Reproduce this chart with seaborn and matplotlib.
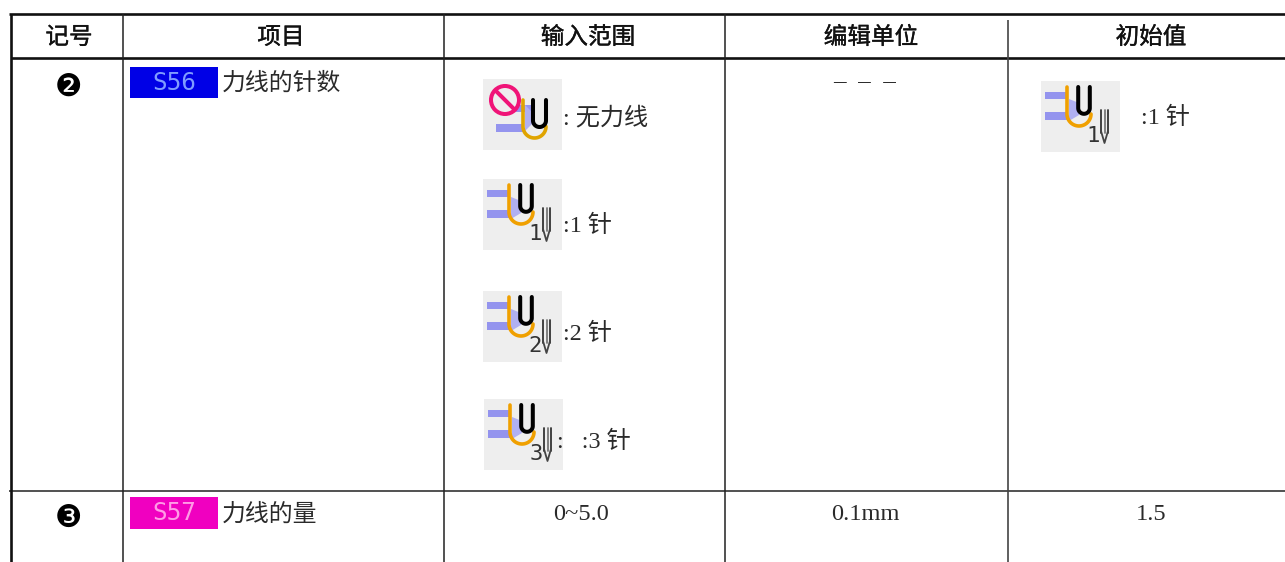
import matplotlib
matplotlib.use("Agg")
import matplotlib.pyplot as plt
import matplotlib.patheffects as pe
from matplotlib.patches import Rectangle, Circle, Polygon
import seaborn as sns
import numpy as np

sns.set_theme(style="white")
plt.rcParams['font.family'] = ['Noto Sans CJK SC', 'DejaVu Sans']

headers = ["记号", "项目", "输入范围", "编辑单位", "初始值"]
header_x = [69, 281, 588, 871, 1151]
row_marks = ["❷", "❸"]
row_items = ["力线的针数", "力线的量"]
badge_labels = ["S56", "S57"]
badge_colors = ["#0000e6", "#f000c0"]
badge_text_colors = ["#7f9cff", "#ff9be6"]
range_labels = [": 无力线", ":1 针", ":2 针", ":   :3 针"]
range_label_x = [563, 563, 563, 557]
range_label_y = [117, 225, 333, 441]
icon_digits = ["", "1", "2", "3"]
icon_left = [483, 483, 483, 484]
icon_top = [79, 179, 291, 399]
row3_values = ["0~5.0", "0.1mm", "1.5"]
row3_x = [581, 865, 1151]

LATIN = ['Liberation Serif', 'Noto Sans CJK SC']
INK = "#2a2a2a"

fig = plt.figure(figsize=(12.85, 5.62), dpi=100)
ax = fig.add_axes([0, 0, 1, 1])
ax.set_xlim(0, 1285)
ax.set_ylim(562, 0)
ax.axis('off')
sns.despine(ax=ax, left=True, bottom=True)


def rule(x0, y0, x1, y1, lw, color="#111111"):
    sns.lineplot(x=[x0, x1], y=[y0, y1], color=color, linewidth=lw, ax=ax,
                 estimator=None, sort=False, legend=False, zorder=3,
                 solid_capstyle='butt')


def u_curve(cx, r, top, arc_y, right_top=None, n=30):
    t = np.linspace(np.pi, 0, n)
    xs = np.r_[cx - r, cx + r * np.cos(t)]
    ys = np.r_[top, arc_y + r * np.sin(t)]
    if right_top is not None:
        xs = np.r_[xs, cx + r]
        ys = np.r_[ys, right_top]
    return xs, ys


def draw_icon(left, top, digit):
    ax.add_patch(Rectangle((left, top), 79, 71, color="#eeeeee", lw=0, zorder=1))
    blue = "#9494ee"
    if digit == "":
        ax.add_patch(Rectangle((left + 13, top + 45), 28, 8, color=blue, lw=0, zorder=2))
        ax.add_patch(Rectangle((left + 33, top + 26), 16, 7, color=blue, lw=0, zorder=2))
        ax.add_patch(Polygon([(left + 42, top + 26), (left + 50, top + 34), (left + 50, top + 44),
                              (left + 42, top + 52)], color="#b0b0f2", lw=0, zorder=2))
        ax.plot(*u_curve(left + 51.5, 11.5, top + 21, top + 47.5), color="#e0a400", lw=2.6, zorder=4)
        ax.plot(*u_curve(left + 56.5, 6.5, top + 21, top + 41.5, top + 21), color="black", lw=2.9, zorder=5)
        ax.add_patch(Circle((left + 22, top + 21), 14, fc="none", ec="#f01478", lw=2.9, zorder=6))
        ax.plot([left + 12.5, left + 31.5], [top + 11.5, top + 30.5], color="#f01478", lw=2.9, zorder=6)
    else:
        ax.add_patch(Rectangle((left + 4, top + 11), 22, 7, color=blue, lw=0, zorder=2))
        ax.add_patch(Rectangle((left + 4, top + 31), 22, 8, color=blue, lw=0, zorder=2))
        ax.add_patch(Polygon([(left + 28, top + 18), (left + 38, top + 22), (left + 38, top + 34),
                              (left + 28, top + 40)], color="#b0b0f2", lw=0, zorder=2))
        ax.plot(*u_curve(left + 38, 12, top + 6, top + 33), color="#f0a000", lw=2.6, zorder=4)
        ax.plot(*u_curve(left + 43, 5.8, top + 6, top + 27, top + 6), color="black", lw=2.9, zorder=5)
        ax.text(left + 52, top + 55, digit, fontsize=16, family='DejaVu Sans Mono', color="#333333",
                ha='center', va='center', zorder=5)
        for dx, c in zip((60, 63.5, 67), ("#333333", "#777777", "#333333")):
            ax.plot([left + dx, left + dx], [top + 29, top + 52], color=c, lw=1.3, zorder=5)
        ax.plot([left + 60, left + 63.5, left + 67], [top + 50, top + 62, top + 50],
                color="#444444", lw=1.3, zorder=5)


# table rules
rule(9, 14, 1285, 14, 1.9)
rule(11, 57.5, 1285, 57.5, 1.9)
rule(9, 491, 1285, 491, 1.2, "#333333")
rule(11, 14, 11, 562, 1.9)
rule(123, 14, 123, 562, 1.1, "#222222")
rule(444, 14, 444, 562, 1.1, "#222222")
rule(725, 14, 725, 562, 1.1, "#222222")
rule(1008, 20, 1008, 562, 1.2, "#444444")

for name, x in zip(headers, header_x):
    ax.text(x, 37.5, name, fontsize=17, ha='center', va='center', color="#111111",
            path_effects=[pe.withStroke(linewidth=0.25, foreground="#111111")])

for mark, y in zip(row_marks, [87, 518]):
    ax.text(68, y, mark, fontsize=22, family='DejaVu Sans', ha='center', va='center', color='black')

for label, fc, tc, item, y0, h in zip(badge_labels, badge_colors, badge_text_colors, row_items, [67, 497], [31, 32]):
    ax.add_patch(Rectangle((130, y0), 88, h, color=fc, lw=0, zorder=2))
    ax.text(174, y0 + h / 2, label, fontsize=17.5, family='DejaVu Sans Mono', color=tc,
            ha='center', va='center', zorder=3)
    ax.text(222, y0 + h / 2 + 1, item, fontsize=17.2, ha='left', va='center', color=INK)

for left, top, digit in zip(icon_left, icon_top, icon_digits):
    draw_icon(left, top, digit)

for text, x, y in zip(range_labels, range_label_x, range_label_y):
    ax.text(x, y + 1, text, fontsize=17.4, family=LATIN, ha='left', va='center', color=INK)

ax.text(865, 82, "–  –  –", fontsize=18, family='Liberation Serif', ha='center', va='center', color=INK)
draw_icon(1041, 81, "1")
ax.text(1141, 118, ":1 针", fontsize=17.4, family=LATIN, ha='left', va='center', color=INK)

for text, x in zip(row3_values, row3_x):
    ax.text(x, 515, text, fontsize=17.6, family='Liberation Serif', ha='center', va='center', color=INK)

fig.savefig("out.png", dpi=100)
